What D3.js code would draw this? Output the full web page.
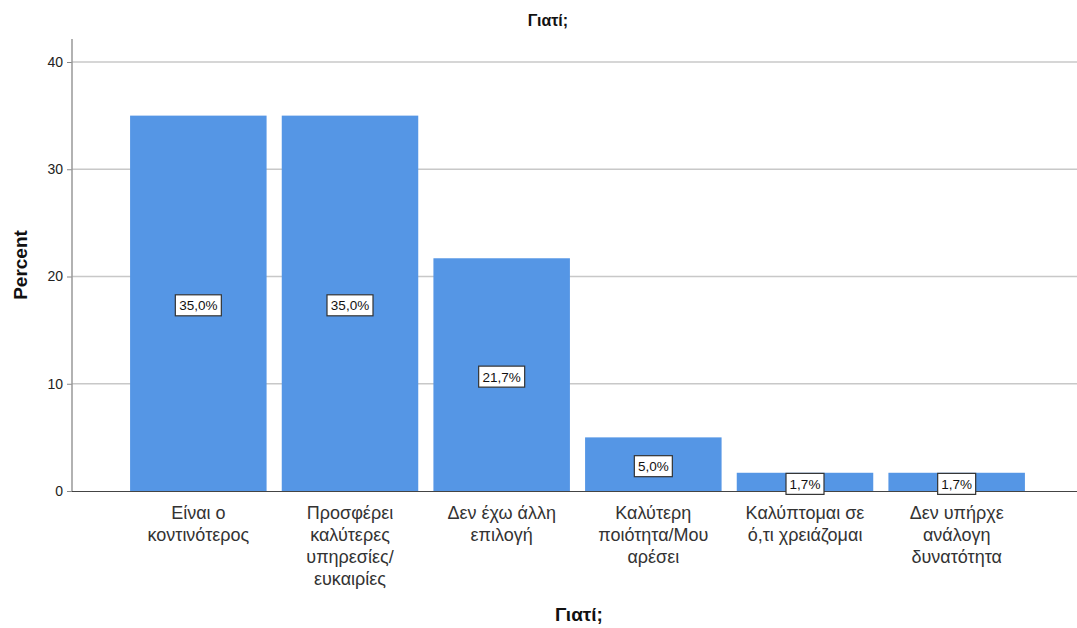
<!DOCTYPE html>
<html><head><meta charset="utf-8">
<script src="https://cdn.jsdelivr.net/npm/d3@7"></script>
<style>body{margin:0;background:#fff}svg{display:block;font-family:"Liberation Sans",Arial,sans-serif}</style>
</head><body>
<svg id="c" width="1077" height="628"></svg>
<script>
const categories = [
  ["Είναι ο","κοντινότερος"],
  ["Προσφέρει","καλύτερες","υπηρεσίες/","ευκαιρίες"],
  ["Δεν έχω άλλη","επιλογή"],
  ["Καλύτερη","ποιότητα/Μου","αρέσει"],
  ["Καλύπτομαι σε","ό,τι χρειάζομαι"],
  ["Δεν υπήρχε","ανάλογη","δυνατότητα"]
];
const values = [35.0, 35.0, 21.7, 5.0, 1.7, 1.7];
const valueLabels = ["35,0%","35,0%","21,7%","5,0%","1,7%","1,7%"];
const yTicks = [0, 10, 20, 30, 40];
const title = "Γιατί;";
const xTitle = "Γιατί;";
const yTitle = "Percent";

const svg = d3.select("#c");
const x0 = 72, y0 = 491, yTop = 39;
const y = d3.scaleLinear().domain([0, 40]).range([y0, 62]);
const x = d3.scaleBand().domain(d3.range(categories.length)).range([122.5, 1032.5]).paddingInner(0.1).paddingOuter(0.05);

// gridlines
svg.append("g").selectAll("line").data(yTicks.filter(d => d > 0)).join("line")
  .attr("x1", x0).attr("x2", 1077).attr("y1", d => y(d)).attr("y2", d => y(d))
  .attr("stroke", "#c8c8c8").attr("stroke-width", 1.3);

// y axis
const yAxis = d3.axisLeft(y).tickValues(yTicks).tickSize(5).tickPadding(4);
const gy = svg.append("g").attr("transform", `translate(${x0},0)`).call(yAxis);
gy.select(".domain").remove();
gy.selectAll(".tick line").attr("stroke", "#888");
gy.selectAll(".tick text").attr("font-size", 14).attr("fill", "#222").attr("font-family", "Liberation Sans, Arial, sans-serif");
svg.append("line").attr("x1", x0).attr("x2", x0).attr("y1", yTop).attr("y2", y0).attr("stroke", "#999").attr("stroke-width", 1.5);

// bars
svg.append("g").selectAll("rect").data(values).join("rect")
  .attr("x", (d, i) => x(i)).attr("width", x.bandwidth())
  .attr("y", d => y(d)).attr("height", d => y0 - y(d))
  .attr("fill", "#5596e5");

// baseline
svg.append("line").attr("x1", x0).attr("x2", 1077).attr("y1", y0 + 0.5).attr("y2", y0 + 0.5).attr("stroke", "#444").attr("stroke-width", 1.2);

// value labels
const lg = svg.append("g").selectAll("g").data(values).join("g")
  .attr("transform", (d, i) => `translate(${x(i) + x.bandwidth() / 2},${y(d / 2) + 2})`);
lg.append("rect").attr("x", (d, i) => -valueLabels[i].length * 4 - 3).attr("y", -10.5)
  .attr("width", (d, i) => valueLabels[i].length * 8 + 6).attr("height", 21)
  .attr("fill", "#fff").attr("stroke", "#333").attr("stroke-width", 1.2);
lg.append("text").text((d, i) => valueLabels[i]).attr("text-anchor", "middle").attr("dy", 5)
  .attr("font-size", 13.5).attr("fill", "#111");

// category labels
const cg = svg.append("g").selectAll("text").data(categories).join("text")
  .attr("text-anchor", "middle").attr("font-size", 18).attr("fill", "#333")
  .attr("transform", (d, i) => `translate(${x(i) + x.bandwidth() / 2},519)`);
cg.selectAll("tspan").data(d => d).join("tspan").attr("x", 0).attr("dy", (d, j) => j === 0 ? 0 : 22).text(d => d);

// titles
svg.append("text").text(title).attr("x", 548).attr("y", 26).attr("text-anchor", "middle")
  .attr("font-size", 16).attr("font-weight", "bold").attr("fill", "#111");
svg.append("text").text(xTitle).attr("x", 579).attr("y", 621).attr("text-anchor", "middle")
  .attr("font-size", 19).attr("font-weight", "bold").attr("fill", "#111");
svg.append("text").text(yTitle).attr("transform", "translate(27,265) rotate(-90)").attr("text-anchor", "middle")
  .attr("font-size", 19).attr("font-weight", "bold").attr("fill", "#111");
</script>
</body></html>
